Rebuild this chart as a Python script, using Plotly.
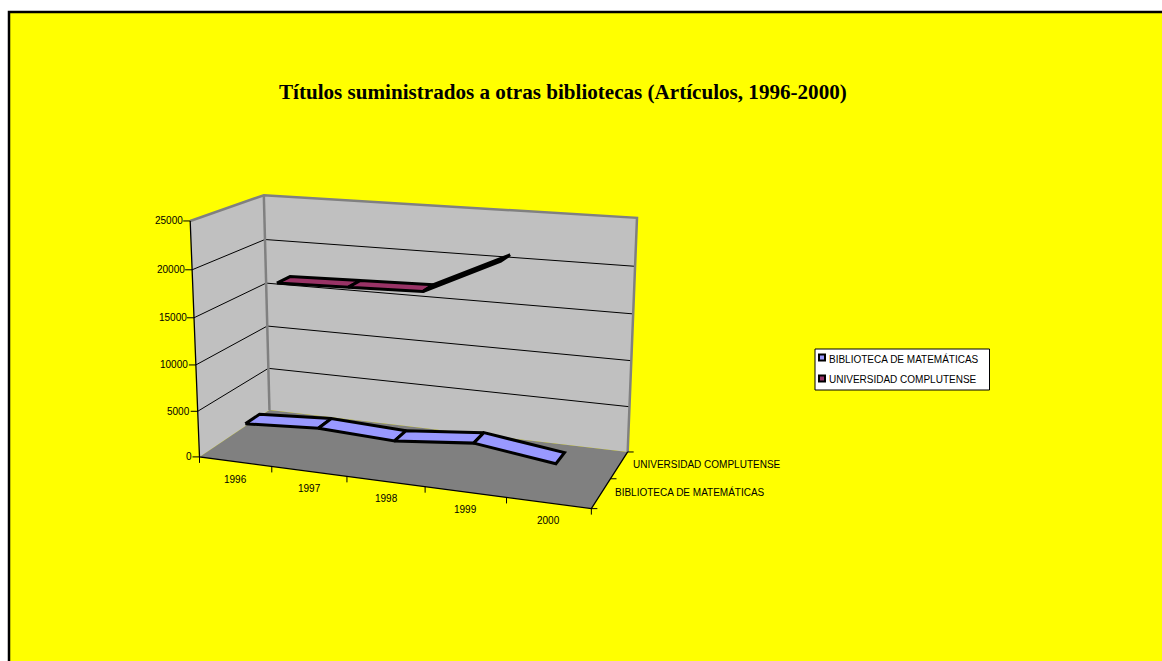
import numpy as np
import plotly.graph_objects as go

TITLE = "Títulos suministrados a otras bibliotecas (Artículos, 1996-2000)"
years = ["1996", "1997", "1998", "1999", "2000"]
series_names = ["BIBLIOTECA DE MATEMÁTICAS", "UNIVERSIDAD COMPLUTENSE"]
biblioteca = [3330, 3800, 3430, 4200, 3100]
complutense = [16600, 16800, 17000, 20800, None]
value_ticks = [0, 5000, 10000, 15000, 20000, 25000]
VMAX = 25000

# Excel-style 3D box: (category, series, value) in unit coordinates -> page position.
box = [((0, 0, 0), (200, 457)), ((1, 0, 0), (591, 509)), ((1, 1, 0), (628, 451.5)),
       ((0, 1, 0), (269, 410)), ((0, 0, 1), (190, 220.5)), ((0, 1, 1), (264, 195.5)),
       ((1, 1, 1), (637, 218))]
A = []
for (u, v, w), (X, Y) in box:
    A.append([u, v, w, 1, 0, 0, 0, 0, -X*u, -X*v, -X*w, -X])
    A.append([0, 0, 0, 0, u, v, w, 1, -Y*u, -Y*v, -Y*w, -Y])
P = np.linalg.svd(np.array(A, float))[2][-1].reshape(3, 4)


def proj(u, v, w):
    r = P @ np.array([u, v, w, 1.0])
    return float(r[0]/r[2]), float(r[1]/r[2])


def pline(pts):
    q = [proj(*p) for p in pts]
    return [a for a, _ in q], [b for _, b in q]


fig = go.Figure()


def line(pts, color="black", width=1, dash=None):
    x, y = pline(pts)
    fig.add_trace(go.Scatter(x=x, y=y, mode="lines", hoverinfo="skip", showlegend=False,
                             line=dict(color=color, width=width, dash=dash)))


def poly(pts, fill, lc=None, lw=0, name=None):
    x, y = pline(pts + pts[:1])
    fig.add_trace(go.Scatter(x=x, y=y, mode="lines", fill="toself", fillcolor=fill,
                             hoverinfo="skip", showlegend=False,
                             line=dict(color=lc or fill, width=lw)))


# page frame
fig.add_shape(type="rect", x0=9, y0=12, x1=1175, y1=675, fillcolor="#FFFF00",
              line=dict(color="black", width=2.5), layer="below")

# walls and floor
poly([(0, 0, 0), (0, 1, 0), (0, 1, 1), (0, 0, 1)], "#C0C0C0")
poly([(0, 1, 0), (1, 1, 0), (1, 1, 1), (0, 1, 1)], "#C0C0C0")
poly([(0, 0, 0), (1, 0, 0), (1, 1, 0), (0, 1, 0)], "#808080")

for t in value_ticks[1:-1]:
    w = t / VMAX
    line([(0, 0, w), (0, 1, w), (1, 1, w)], width=1)

# wall edges
line([(0, 0, 1), (0, 1, 1), (1, 1, 1), (1, 1, 0)], color="#808080", width=2.5)
line([(0, 1, 1), (0, 1, 0)], color="#808080", width=2.5)

# axis lines
line([(0, 0, 1), (0, 0, 0), (1, 0, 0), (1, 1, 0)], color="black", width=1.3)


def ribbon(values, vc, fill):
    n = len(years)
    d = 0.10
    for i in range(n - 1):
        a, b = values[i], values[i + 1]
        if a is None or b is None:
            continue
        ua, ub = (i + .5) / n, (i + 1.5) / n
        poly([(ua, vc - d, a / VMAX), (ub, vc - d, b / VMAX),
              (ub, vc + d, b / VMAX), (ua, vc + d, a / VMAX)], fill, "black", 3)


ribbon(complutense, 0.75, "#993366")
ribbon(biblioteca, 0.25, "#9999FF")

annots = []
TXT = dict(family="Liberation Sans", size=10, color="black")


def label(text, x, y, anchor="center"):
    annots.append(dict(text=text, x=x, y=y, xref="x", yref="y", showarrow=False,
                       xanchor=anchor, yanchor="middle", font=TXT,
                       borderpad=0, borderwidth=0))


# value axis ticks
for t in value_ticks:
    x, y = proj(0, 0, t / VMAX)
    fig.add_trace(go.Scatter(x=[x - 7, x], y=[y, y], mode="lines", hoverinfo="skip",
                             showlegend=False, line=dict(color="black", width=1)))
    label(f"{t}", x - 7.5, y, "right")

# category axis ticks
for i in range(len(years) + 1):
    x, y = proj(i / len(years), 0, 0)
    fig.add_trace(go.Scatter(x=[x, x], y=[y, y + 6], mode="lines", hoverinfo="skip",
                             showlegend=False, line=dict(color="black", width=1)))
for i, yr in enumerate(years):
    x, y = proj((i + .5) / len(years), 0, 0)
    label(yr, x + 0.5, y + 17.5)

# series axis ticks
for j in range(len(series_names) + 1):
    x, y = proj(1, j / len(series_names), 0)
    fig.add_trace(go.Scatter(x=[x, x + 6], y=[y, y], mode="lines", hoverinfo="skip",
                             showlegend=False, line=dict(color="black", width=1)))
for j, nm in enumerate(series_names):
    x, y = proj(1, (j + .5) / len(series_names), 0)
    label(nm, x + 14, y - 1, "left")

# title
annots.append(dict(text=f"<b>{TITLE}</b>", x=563, y=92, xref="x", yref="y", showarrow=False,
                   xanchor="center", yanchor="middle",
                   font=dict(family="Liberation Serif", size=21.1, color="black")))

# legend
fig.add_shape(type="rect", x0=815, y0=349, x1=989.5, y1=390, fillcolor="white",
              line=dict(color="black", width=1))
for nm, col, yc in zip(series_names, ["#9999FF", "#993366"], [358, 379]):
    fig.add_shape(type="rect", x0=819, y0=yc - 3.5, x1=825, y1=yc + 2.5, fillcolor=col,
                  line=dict(color="black", width=2))
    label(nm, 829, yc + 0.5, "left")

fig.update_layout(
    width=1162, height=661, margin=dict(l=0, r=0, t=0, b=0),
    paper_bgcolor="white", plot_bgcolor="white", showlegend=False, annotations=annots,
    xaxis=dict(range=[0, 1162], visible=False, fixedrange=True),
    yaxis=dict(range=[661, 0], visible=False, fixedrange=True),
)
fig.write_html("out.html", config=dict(displayModeBar=False),
               post_script="document.body.style.margin='0';document.body.style.overflow='hidden';")
